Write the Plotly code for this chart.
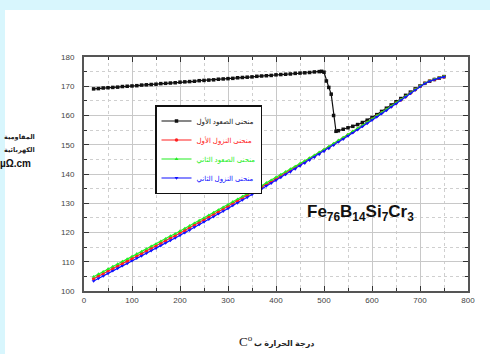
import plotly.graph_objects as go

# ---------------- data ----------------
temp = [20, 30, 40, 50, 60, 70, 80, 90, 100, 110, 120, 130, 140, 150, 160, 170, 180, 190,
        200, 210, 220, 230, 240, 250, 260, 270, 280, 290, 300, 310, 320, 330, 340, 350,
        360, 370, 380, 390, 400, 410, 420, 430, 440, 450, 460, 470, 480, 490, 500, 510,
        520, 530, 540, 550, 560, 570, 580, 590, 600, 610, 620, 630, 640, 650, 660, 670,
        680, 690, 700, 710, 720, 730, 740, 750]

cool2 = [103.4, 104.3, 105.1, 106.0, 106.9, 107.7, 108.6, 109.4, 110.3, 111.2, 112.0, 112.9,
         113.8, 114.6, 115.5, 116.4, 117.3, 118.1, 119.0, 119.9, 120.8, 121.8, 122.7, 123.6,
         124.5, 125.4, 126.4, 127.3, 128.2, 129.2, 130.1, 131.1, 132.0, 133.0, 133.9, 134.9,
         135.9, 136.8, 137.8, 138.8, 139.8, 140.7, 141.7, 142.7, 143.7, 144.7, 145.7, 146.7,
         147.7, 148.7, 149.8, 150.9, 151.9, 153.0, 154.1, 155.1, 156.2, 157.3, 158.4, 159.5,
         160.6, 161.7, 162.9, 164.0, 165.2, 166.3, 167.5, 168.7, 169.9, 170.9, 171.7, 172.3,
         172.8, 173.2]

heat2 = [104.9, 105.8, 106.6, 107.5, 108.4, 109.2, 110.1, 110.9, 111.8, 112.7, 113.5, 114.4,
         115.3, 116.1, 117.0, 117.9, 118.8, 119.6, 120.5, 121.4, 122.3, 123.2, 124.1, 125.0,
         125.9, 126.8, 127.7, 128.6, 129.5, 130.5, 131.4, 132.3, 133.2, 134.2, 135.1, 136.0,
         137.0, 137.9, 138.9, 139.8, 140.8, 141.7, 142.6, 143.6, 144.5, 145.5, 146.4, 147.4,
         148.4, 149.4, 150.4, 151.5, 152.5, 153.5, 154.6, 155.6, 156.6, 157.7, 158.8, 159.9,
         161.0, 162.1, 163.2, 164.3, 165.4, 166.5, 167.7, 168.9, 170.1, 171.0, 171.8, 172.4,
         172.9, 173.3]

cool1 = [104.2, 105.1, 105.9, 106.8, 107.7, 108.5, 109.4, 110.2, 111.1, 112.0, 112.8, 113.7,
         114.6, 115.4, 116.3, 117.2, 118.1, 118.9, 119.8, 120.7, 121.6, 122.6, 123.5, 124.4,
         125.3, 126.2, 127.2, 128.1, 129.0, 130.0, 130.9, 131.8, 132.7, 133.7, 134.6, 135.6,
         136.5, 137.4, 138.4, 139.4, 140.3, 141.3, 142.2, 143.2, 144.2, 145.2, 146.1, 147.1,
         148.1, 149.1, 150.2, 151.2, 152.2, 153.3, 154.4, 155.4, 156.5, 157.6, 158.7, 159.8,
         160.9, 162.0, 163.1, 164.2, 165.3, 166.4, 167.6, 168.8, 170.0, 171.0, 171.8, 172.3,
         172.8, 173.2]

temp_heat1 = [20, 30, 40, 50, 60, 70, 80, 90, 100, 110, 120, 130, 140, 150, 160, 170, 180, 190,
              200, 210, 220, 230, 240, 250, 260, 270, 280, 290, 300, 310, 320, 330, 340, 350,
              360, 370, 380, 390, 400, 410, 420, 430, 440, 450, 460, 470, 480, 490, 495, 500,
              505, 510, 515, 520, 525, 530, 540, 550, 560, 570, 580, 590, 600, 610, 620, 630,
              640, 650, 660, 670, 680, 690, 700, 710, 720, 730, 740, 750]
heat1 = [169.1, 169.2, 169.4, 169.5, 169.6, 169.7, 169.9, 170.0, 170.1, 170.2, 170.4, 170.5,
         170.6, 170.7, 170.9, 171.0, 171.1, 171.2, 171.4, 171.5, 171.6, 171.7, 171.9, 172.0,
         172.1, 172.2, 172.4, 172.5, 172.6, 172.7, 172.9, 173.0, 173.1, 173.2, 173.4, 173.5,
         173.6, 173.7, 173.9, 174.0, 174.1, 174.2, 174.4, 174.5, 174.6, 174.7, 174.9, 175.0,
         175.1, 174.8, 171.8, 169.6, 167.3, 160.0, 154.6, 154.8, 155.3, 155.8, 156.3, 156.9,
         157.6, 158.4, 159.3, 160.3, 161.4, 162.5, 163.6, 164.7, 165.8, 166.9, 168.0, 169.1,
         170.1, 171.0, 171.7, 172.3, 172.8, 173.3]

names = ["منحنى الصعود الأول", "منحنى النزول الأول", "منحنى الصعود الثاني", "منحنى النزول الثاني"]
colors = ["#111111", "#ff2020", "#22ee22", "#1010ff"]
symbols = ["square", "circle", "triangle-up", "triangle-down"]

x_ticks = [0, 100, 200, 300, 400, 500, 600, 700, 800]
y_ticks = [100, 110, 120, 130, 140, 150, 160, 170, 180]

FONT = "Arial, Liberation Sans, DejaVu Sans, sans-serif"

fig = go.Figure()
series = [(temp_heat1, heat1), (temp, cool1), (temp, heat2), (temp, cool2)]
for (xs, ys), nm, col, sym in zip(series, names, colors, symbols):
    fig.add_trace(go.Scatter(
        x=xs, y=ys, mode="lines+markers",
        name=f"<span style='color:{col}'>{nm}</span>",
        line=dict(color=col, width=1.2),
        marker=dict(color=col, symbol=sym, size=3.5, line=dict(width=0)),
    ))

axis_common = dict(
    showline=True, linecolor="#555555", linewidth=2, mirror="ticks",
    ticks="inside", ticklen=5, tickcolor="#333333", tickwidth=1,
    showgrid=True, gridcolor="#c8c8c8", gridwidth=1,
    tickfont=dict(family=FONT, size=8, color="#444444"),
    zeroline=False,
)

fig.update_xaxes(range=[0, 800], tickvals=x_ticks, ticktext=[str(v) for v in x_ticks],
                 minor=dict(dtick=50, showgrid=True, gridcolor="#cfcfcf", griddash="dot",
                            ticks="inside", ticklen=3, tickcolor="#333333"),
                 **axis_common)
fig.update_yaxes(range=[100, 180], tickvals=y_ticks, ticktext=[str(v) for v in y_ticks],
                 minor=dict(dtick=5, showgrid=True, gridcolor="#cfcfcf", griddash="dot",
                            ticks="inside", ticklen=3, tickcolor="#333333"),
                 ticklabelstandoff=6,
                 **axis_common)

L, R, T, B = 84, 22, 57, 63
W, H = 490, 354
pw, ph = W - L - R, H - T - B


def px(x):
    return (x - L) / pw


def py(y):
    return (H - B - y) / ph


annotations = [
    dict(text="Fe<sub>76</sub>B<sub>14</sub>Si<sub>7</sub>Cr<sub>3</sub>",
         x=px(305), y=py(213), xanchor="left", yanchor="middle",
         font=dict(family=FONT, size=17, color="#111111", weight="bold")),
    dict(text="المقاومية", x=px(19), y=py(137), xanchor="center", yanchor="middle",
         font=dict(family=FONT, size=6.5, color="#222222", weight="bold")),
    dict(text="الكهربائية", x=px(19), y=py(150), xanchor="center", yanchor="middle",
         font=dict(family=FONT, size=6.5, color="#222222", weight="bold")),
    dict(text="µΩ.cm", x=px(15), y=py(163), xanchor="center", yanchor="middle",
         font=dict(family=FONT, size=10, color="#111111", weight="bold")),
    dict(text="درجة الحرارة ب", x=px(284), y=py(343), xanchor="center", yanchor="middle",
         font=dict(family=FONT, size=8, color="#222222", weight="bold")),
    dict(text="C<sup>o</sup>", x=px(246), y=py(341), xanchor="center", yanchor="middle",
         font=dict(family="Times New Roman, Liberation Serif, serif", size=13, color="#222222")),
]
for a in annotations:
    a.update(xref="paper", yref="paper", showarrow=False)

fig.update_layout(
    width=W, height=H,
    margin=dict(l=L, r=R, t=T, b=B, pad=0),
    paper_bgcolor="#d8f6fd",
    plot_bgcolor="white",
    showlegend=True,
    legend=dict(x=px(155), y=py(105), xanchor="left", yanchor="top",
                bgcolor="white", bordercolor="#111111", borderwidth=1.5,
                font=dict(family=FONT, size=7, color="#222222"),
                itemwidth=30, tracegroupgap=0),
    annotations=annotations,
    shapes=[dict(type="rect", xref="paper", yref="paper", layer="below",
                 x0=px(5), x1=px(W + 5), y0=py(10), y1=py(H + 5),
                 fillcolor="white", line=dict(width=0))],
)

fig.write_html("out.html", config={"displayModeBar": False},
               post_script="document.body.style.margin='0';document.body.style.padding='0';")
